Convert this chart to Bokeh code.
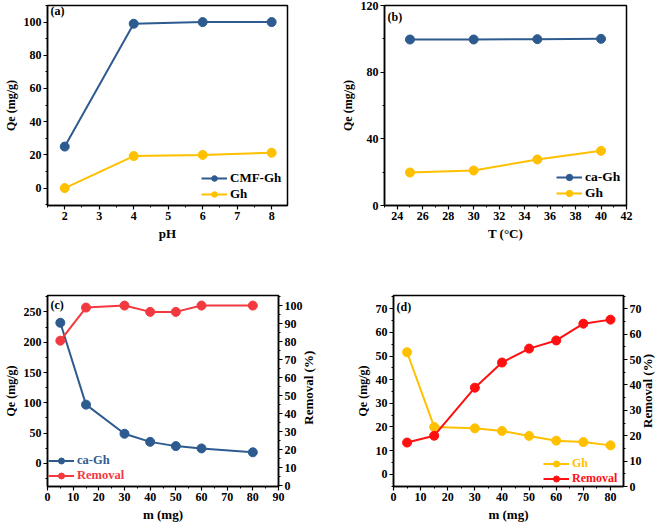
import math
from bokeh.plotting import figure
from bokeh.layouts import column, row
from bokeh.models import (Range1d, LinearAxis, SingleIntervalTicker, Legend, LegendItem, Label)
from bokeh.embed import file_html
from bokeh.resources import INLINE

# ---------------- data ----------------
# (a) effect of pH
ph = [2, 4, 6, 8]
qe_a_cmf = [25, 99, 100, 100]
qe_a_gh = [0, 19.3, 20, 21.3]
# (b) effect of temperature
temp = [25, 30, 35, 40]
qe_b_ca = [99.6, 99.6, 99.8, 100]
qe_b_gh = [19.8, 21.0, 27.6, 32.8]
# (c) effect of mass, ca-Gh
mass_c = [5, 15, 30, 40, 50, 60, 80]
qe_c_ca = [232, 97, 49, 35.6, 28.6, 24.8, 18.4]
rem_c = [80.5, 98.9, 100, 96.5, 96.5, 100, 100]
# (d) effect of mass, Gh
mass_d = [5, 15, 30, 40, 50, 60, 70, 80]
qe_d_gh = [51.6, 20, 19.4, 18.3, 16.2, 14.2, 13.6, 12.2]
rem_d = [17.3, 20, 38.9, 48.8, 54.3, 57.5, 64.1, 65.7]

BLUE = "#2E5B8F"
GOLD = "#FFC000"
RED_C = "#F2393F"
RED_D = "#FF1010"
FONT = "Liberation Serif"
NBSP = "\u00a0"


def style_axis(ax, interval, label=None, tick_font="12px", label_font="13px"):
    ax.ticker = SingleIntervalTicker(interval=interval, num_minor_ticks=2)
    ax.axis_line_color = "black"
    ax.axis_line_width = 1.5
    ax.major_tick_line_color = "black"
    ax.minor_tick_line_color = "black"
    ax.major_tick_line_width = 1.2
    ax.minor_tick_line_width = 1
    ax.major_tick_in = 0
    ax.major_tick_out = 4
    ax.minor_tick_in = 0
    ax.minor_tick_out = 2
    ax.major_label_text_font = FONT
    ax.major_label_text_font_style = "bold"
    ax.major_label_text_font_size = tick_font
    ax.major_label_text_color = "black"
    ax.major_label_standoff = 2
    if label is not None:
        ax.axis_label = label
    ax.axis_label_text_font = FONT
    ax.axis_label_text_font_style = "bold"
    ax.axis_label_text_font_size = label_font
    ax.axis_label_text_color = "black"
    ax.axis_label_standoff = 3


def make_fig(w, h, xr, yr, bl, br, bt, bb):
    p = figure(width=w, height=h, x_range=Range1d(*xr), y_range=Range1d(*yr),
               output_backend="svg", toolbar_location=None,
               min_border_left=bl, min_border_right=br, min_border_top=bt, min_border_bottom=bb)
    p.grid.visible = False
    p.outline_line_color = "black"
    p.outline_line_width = 1.5
    p.outline_line_alpha = 1
    p.background_fill_color = "white"
    p.border_fill_color = "white"
    return p


def series(p, x, y, color, y_range_name="default"):
    l = p.line(x, y, line_color=color, line_width=2, y_range_name=y_range_name)
    s = p.scatter(x, y, size=9, fill_color=color, line_color=color, y_range_name=y_range_name)
    return [l, s]


def legend(p, items, loc, size="13px", colors=None, gw=26, gh=14):
    lg = Legend(items=[LegendItem(label=t, renderers=r) for t, r in items], location=loc,
                border_line_color=None, background_fill_alpha=0, padding=0, margin=0,
                spacing=0, glyph_width=gw, glyph_height=gh, label_standoff=3,
                label_text_font=FONT, label_text_font_style="bold", label_text_font_size=size,
                label_text_color=colors if colors else "black", label_height=gh)
    p.add_layout(lg)
    return lg


def panel_label(p, text, x, y):
    p.add_layout(Label(x=x, y=y, x_units="screen", y_units="screen", text=text,
                       text_font=FONT, text_font_style="bold", text_font_size="12px",
                       text_baseline="top", text_color="black"))


def right_axis(p, interval, label, pad):
    ax = LinearAxis(y_range_name="r")
    style_axis(ax, interval, label)
    try:
        ax.axis_label_orientation = math.pi / 2
        ax.axis_label_align = "start"
        ax.axis_label = NBSP * pad + label
    except Exception:
        pass
    p.add_layout(ax, "right")
    return ax

# ---------------- (a) ----------------
pa = make_fig(332, 260, (1.5, 8.46), (-10.5, 110), 43, 45, 5, 49)
style_axis(pa.xaxis[0], 1, "pH")
style_axis(pa.yaxis[0], 20, "Qe (mg/g)", label_font="12px")
ra = series(pa, ph, qe_a_cmf, BLUE)
rb = series(pa, ph, qe_a_gh, GOLD)
legend(pa, [("CMF-Gh", ra), ("Gh", rb)], (154, 3))
panel_label(pa, "(a)", 3, 202)

# ---------------- (b) ----------------
pb = make_fig(333, 260, (23, 42), (0, 120), 52, 39, 5, 55)
style_axis(pb.xaxis[0], 2, "T (\u00b0C)")
style_axis(pb.yaxis[0], 40, "Qe (mg/g)", label_font="12px")
rc = series(pb, temp, qe_b_ca, BLUE)
rd = series(pb, temp, qe_b_gh, GOLD)
legend(pb, [("ca-Gh", rc), ("Gh", rd)], (172, 4), size="13.5px", gh=16)
panel_label(pb, "(b)", 3, 196)

# ---------------- (c) ----------------
pc = make_fig(332, 264, (0, 90), (-38, 277), 42, 54, 33, 36)
pc.extra_y_ranges = {"r": Range1d(-0.5, 105.6)}
style_axis(pc.xaxis[0], 10, "m (mg)")
style_axis(pc.yaxis[0], 50, "Qe (mg/g)", label_font="12px")
right_axis(pc, 10, "Removal (%)", 19)
re = series(pc, mass_c, qe_c_ca, BLUE)
rf = series(pc, mass_c, rem_c, RED_C, "r")
legend(pc, [("ca-Gh", re)], (1, 18), size="12.5px", colors=BLUE, gh=15)
legend(pc, [("Removal", rf)], (1, 3), size="12.5px", colors=RED_C, gh=15)
panel_label(pc, "(c)", 3, 189)

# ---------------- (d) ----------------
pd_ = make_fig(333, 264, (0, 84.8), (-5.2, 75.6), 61, 37, 35, 37)
pd_.extra_y_ranges = {"r": Range1d(0, 75.2)}
style_axis(pd_.xaxis[0], 10, "m (mg)")
style_axis(pd_.yaxis[0], 10, "Qe (mg/g)", label_font="12px")
right_axis(pd_, 10, "Removal (%)", 18)
rg = series(pd_, mass_d, qe_d_gh, GOLD)
rh = series(pd_, mass_d, rem_d, RED_D, "r")
legend(pd_, [("Gh", rg)], (150, 15), size="12px", colors=GOLD, gh=15)
legend(pd_, [("Removal", rh)], (150, 0), size="12px", colors=RED_D, gh=15)
panel_label(pd_, "(d)", 3, 187)

layout = column(row(pa, pb), row(pc, pd_))
open("out.html", "w").write(file_html(layout, INLINE))
